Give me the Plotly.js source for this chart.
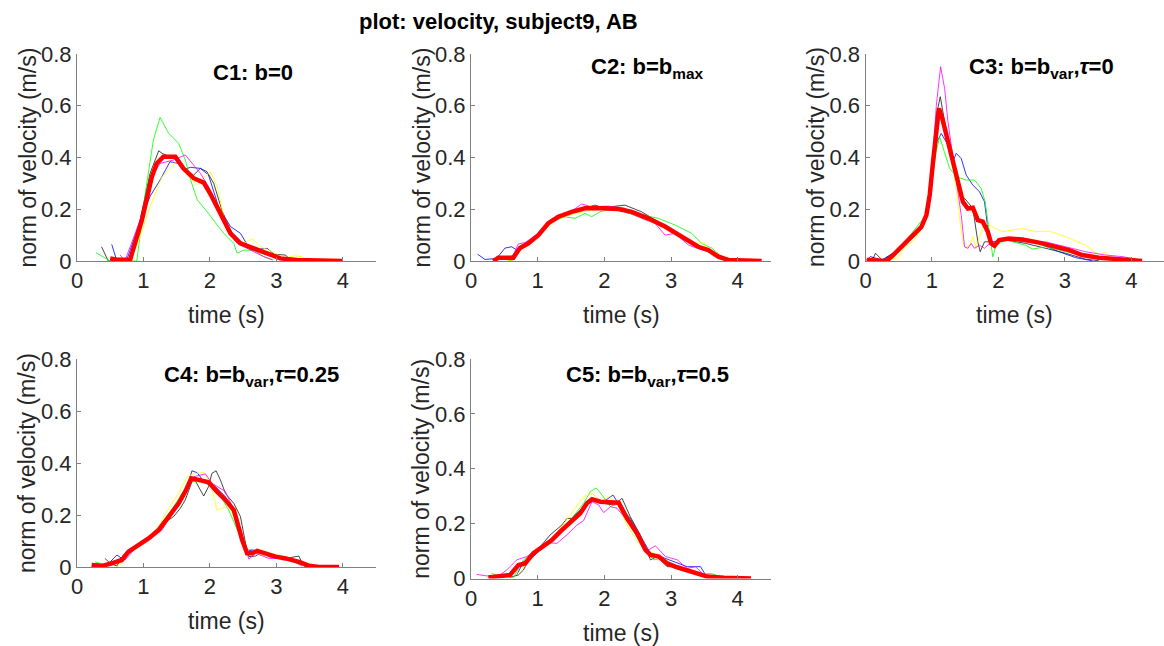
<!DOCTYPE html>
<html>
<head>
<meta charset="utf-8">
<script src="https://cdn.plot.ly/plotly-3.0.1.min.js"></script>
<style>html,body{margin:0;padding:0;background:#fff;}#chart{width:1164px;height:646px;}</style>
</head>
<body>
<div id="chart"></div>
<script>
// ---------- data (time in s, norm of velocity in m/s) ----------
const mainTitle = "plot: velocity, subject9, AB";
const panelTitles = ["C1: b=0", "C2: b=b<sub>max</sub>", "C3: b=b<sub>var</sub>,<i>τ</i>=0", "C4: b=b<sub>var</sub>,<i>τ</i>=0.25", "C5: b=b<sub>var</sub>,<i>τ</i>=0.5"];
const xTicks = [0, 1, 2, 3, 4];
const yTicks = [0, 0.2, 0.4, 0.6, 0.8];
const yTickText = ["0", "0.2", "0.4", "0.6", "0.8"];

// C1
const c1_k_t = [0.37,0.47,0.6,0.8,0.95,1.10,1.23,1.28,1.40,1.50,1.655,1.755,1.857,1.957,2.058,2.18,2.31,2.49,2.66,2.91,3.14,3.21];
const c1_k_v = [0.055,0,0,0.008,0.158,0.339,0.426,0.416,0.403,0.39,0.339,0.332,0.358,0.345,0.30,0.197,0.113,0.068,0.049,0.027,0.023,0.004];
const c1_b_t = [0.523,0.60,0.75,0.85,0.976,1.10,1.25,1.40,1.53,1.60,1.705,1.857,1.98,2.13,2.31,2.46,2.61,2.86,3.01,3.16];
const c1_b_v = [0.064,0,0.005,0.08,0.171,0.25,0.313,0.384,0.377,0.352,0.362,0.358,0.332,0.21,0.133,0.107,0.042,0.049,0.017,0.004];
const c1_g_t = [0.287,0.50,0.9,1.026,1.15,1.25,1.38,1.53,1.63,1.71,1.81,1.98,2.11,2.21,2.36,2.41,2.51,2.66,2.81,2.96];
const c1_g_v = [0.032,0,0,0.26,0.468,0.555,0.493,0.455,0.39,0.313,0.236,0.184,0.139,0.107,0.068,0.03,0.042,0.042,0.017,0.004];
const c1_y_t = [0.80,0.95,1.10,1.28,1.43,1.50,1.63,1.81,1.907,2.007,2.11,2.21,2.36,2.51,2.64,2.76,2.94,3.11,3.27,3.39,3.44];
const c1_y_v = [0,0.094,0.21,0.326,0.365,0.39,0.339,0.294,0.32,0.345,0.287,0.171,0.094,0.068,0.087,0.055,0.036,0.01,0.02,0.017,0];
const c1_m_t = [0.65,0.72,0.95,1.127,1.25,1.45,1.63,1.73,1.857,1.98,2.11,2.26,2.41,2.61,2.81,2.94];
const c1_m_v = [0.023,0,0.158,0.326,0.377,0.39,0.41,0.377,0.339,0.287,0.21,0.12,0.068,0.042,0.017,0.004];
const c1_r_t = [0.50,0.60,0.80,0.976,1.127,1.20,1.30,1.48,1.60,1.756,1.907,2.007,2.158,2.31,2.46,2.66,2.86,3.06,3.31,3.6,3.99];
const c1_r_v = [0.01,0.005,0.005,0.158,0.326,0.377,0.403,0.403,0.358,0.32,0.303,0.26,0.184,0.107,0.068,0.049,0.027,0.01,0.004,0.002,0];

// C2
const c2_k_t = [0.41,0.61,0.71,0.96,1.16,1.36,1.61,1.86,2.11,2.31,2.56,2.81,3.06,3.31,3.56,3.76,3.91];
const c2_k_v = [0.017,0,0.05,0.094,0.146,0.178,0.197,0.21,0.21,0.216,0.19,0.152,0.113,0.075,0.036,0.01,0];
const c2_b_t = [0.10,0.21,0.385,0.51,0.61,0.685,0.81,1.01,1.135,1.36,1.61,1.86,2.01,2.26,2.51,2.76,3.01,3.26,3.51,3.66,3.81];
const c2_b_v = [0.026,0.006,0.01,0.05,0.055,0.043,0.062,0.10,0.139,0.171,0.197,0.216,0.204,0.197,0.171,0.152,0.113,0.075,0.05,0.03,0.006];
const c2_g_t = [0.385,0.56,0.66,0.81,1.01,1.21,1.41,1.56,1.71,1.81,1.935,2.16,2.36,2.56,2.81,3.06,3.31,3.46,3.61,3.76,3.91];
const c2_g_v = [0.017,0.01,0.03,0.062,0.107,0.152,0.171,0.165,0.184,0.171,0.19,0.204,0.184,0.178,0.165,0.139,0.107,0.068,0.05,0.017,0.004];
const c2_y_t = [0.46,0.61,0.71,0.86,1.06,1.31,1.56,1.81,2.06,2.31,2.56,2.81,3.06,3.31,3.51,3.535,3.66,3.86];
const c2_y_v = [0.01,0.001,0.036,0.062,0.113,0.165,0.184,0.197,0.204,0.194,0.165,0.139,0.107,0.068,0.07,0.042,0.036,0.004];
const c2_m_t = [0.61,0.71,0.81,1.01,1.26,1.46,1.66,1.81,2.06,2.31,2.56,2.76,2.91,3.06,3.26,3.46,3.61,3.76,3.91];
const c2_m_v = [0.01,0.066,0.071,0.107,0.165,0.184,0.22,0.21,0.212,0.204,0.165,0.146,0.10,0.107,0.062,0.043,0.036,0.017,0.001];
const c2_r_t = [0.335,0.41,0.635,0.735,0.86,1.01,1.16,1.31,1.51,1.71,1.96,2.21,2.41,2.66,2.91,3.16,3.41,3.56,3.71,3.86,4.1,4.36];
const c2_r_v = [0,0.013,0.013,0.05,0.068,0.10,0.146,0.171,0.19,0.204,0.204,0.201,0.19,0.165,0.133,0.094,0.055,0.042,0.017,0.004,0.001,0];

// C3
const c3_k_t = [0.02,0.12,0.15,0.25,0.5,0.75,0.92,1.0,1.066,1.125,1.19,1.265,1.365,1.44,1.515,1.615,1.69,1.725,1.79,1.915,2.11,2.41,2.71,3.01,3.31,3.51];
const c3_k_v = [0.004,0.013,0.03,0.004,0.04,0.1,0.18,0.33,0.564,0.635,0.538,0.435,0.332,0.255,0.235,0.203,0.074,0.036,0.074,0.074,0.081,0.068,0.049,0.03,0.007,0.001];
const c3_b_t = [0.02,0.07,0.25,0.5,0.75,0.92,1.0,1.075,1.14,1.24,1.315,1.365,1.44,1.515,1.615,1.715,1.79,1.865,1.915,2.01,2.31,2.61,2.91,3.16,3.41];
const c3_b_v = [0.004,0.017,0.004,0.045,0.1,0.18,0.32,0.461,0.493,0.448,0.384,0.416,0.396,0.332,0.293,0.268,0.229,0.074,0.055,0.081,0.081,0.068,0.036,0.013,0.001];
const c3_g_t = [0.02,0.3,0.5,0.7,0.92,1.0,1.06,1.115,1.19,1.265,1.365,1.515,1.64,1.74,1.80,1.865,1.915,1.965,2.11,2.41,2.51,2.71,3.01,3.31,3.61];
const c3_g_v = [0.004,0.004,0.045,0.11,0.18,0.3,0.42,0.48,0.422,0.358,0.326,0.313,0.313,0.28,0.229,0.113,0.016,0.061,0.081,0.061,0.046,0.055,0.036,0.023,0.007];
const c3_y_t = [0.35,0.49,0.54,0.617,0.716,0.816,0.916,0.99,1.066,1.115,1.165,1.24,1.315,1.365,1.44,1.49,1.565,1.615,1.665,1.764,1.815,2.06,2.36,2.56,2.76,3.01,3.31,3.51,3.61,3.66];
const c3_y_v = [0.01,0.008,0.036,0.061,0.074,0.113,0.177,0.306,0.5,0.59,0.538,0.435,0.358,0.28,0.113,0.049,0.061,0.094,0.049,0.132,0.145,0.113,0.126,0.113,0.116,0.094,0.061,0.023,0.036,0.008];
const c3_m_t = [0.3,0.5,0.75,0.92,1.0,1.066,1.13,1.19,1.24,1.315,1.39,1.44,1.49,1.54,1.59,1.64,1.715,1.79,1.89,2.11,2.41,2.71,3.01,3.31,3.61,3.86,4.06];
const c3_m_v = [0.004,0.045,0.1,0.18,0.36,0.603,0.751,0.667,0.538,0.41,0.28,0.177,0.055,0.049,0.068,0.049,0.061,0.049,0.074,0.081,0.074,0.074,0.055,0.036,0.023,0.017,0.008];
const c3_r_t = [0.018,0.317,0.417,0.567,0.716,0.84,0.916,0.966,1.016,1.066,1.105,1.155,1.225,1.315,1.39,1.465,1.54,1.615,1.69,1.764,1.84,1.89,1.94,2.01,2.16,2.36,2.61,2.86,3.06,3.26,3.51,3.81,4.16];
const c3_r_v = [0.004,0,0.023,0.061,0.10,0.132,0.177,0.255,0.384,0.525,0.59,0.551,0.474,0.384,0.306,0.229,0.203,0.206,0.158,0.152,0.113,0.068,0.059,0.081,0.087,0.083,0.071,0.055,0.042,0.023,0.013,0.007,0];

// C4
const c4_k_t = [0.42,0.5,0.6,0.7,0.775,1.077,1.379,1.455,1.555,1.63,1.73,1.78,1.857,1.907,1.98,2.03,2.093,2.158,2.234,2.36,2.46,2.536,2.586,2.687,2.787,2.888,3.14,3.34,3.39,3.44];
const c4_k_v = [0.033,0.014,0.004,0.046,0.065,0.11,0.181,0.194,0.226,0.258,0.328,0.332,0.296,0.273,0.309,0.36,0.37,0.335,0.283,0.245,0.194,0.091,0.04,0.042,0.059,0.04,0.033,0.042,0.014,0];
const c4_b_t = [0.247,0.42,0.5,0.6,0.675,0.775,1.077,1.278,1.48,1.63,1.73,1.806,1.932,2.083,2.234,2.36,2.46,2.536,2.637,2.762,2.888,3.14,3.34,3.44];
const c4_b_v = [0.014,0.008,0.02,0.046,0.033,0.065,0.11,0.149,0.226,0.283,0.37,0.363,0.322,0.309,0.27,0.206,0.117,0.059,0.065,0.059,0.04,0.033,0.02,0];
const c4_g_t = [0.272,0.42,0.624,0.775,1.077,1.379,1.58,1.706,1.832,2.008,2.134,2.284,2.435,2.536,2.637,2.787,2.99,3.24,3.39,3.44];
const c4_g_v = [0.02,0.008,0.02,0.059,0.11,0.2,0.283,0.328,0.328,0.322,0.283,0.219,0.13,0.065,0.068,0.053,0.04,0.03,0.008,0];
const c4_y_t = [0.6,0.675,0.775,1.077,1.228,1.379,1.53,1.656,1.78,1.907,2.008,2.108,2.184,2.284,2.385,2.486,2.586,2.84,3.04,3.24,3.34];
const c4_y_v = [0,0.014,0.059,0.11,0.155,0.226,0.283,0.347,0.36,0.363,0.322,0.219,0.226,0.232,0.181,0.104,0.059,0.042,0.046,0.027,0.008];
const c4_m_t = [0.725,0.876,1.077,1.278,1.48,1.63,1.756,1.932,2.033,2.234,2.385,2.51,2.586,2.687,2.888,3.14,3.29,3.39];
const c4_m_v = [0.027,0.072,0.106,0.142,0.226,0.296,0.347,0.358,0.322,0.29,0.206,0.097,0.03,0.053,0.033,0.033,0.017,0.003];
const c4_r_t = [0.22,0.373,0.523,0.675,0.775,0.926,1.077,1.228,1.379,1.53,1.63,1.72,1.832,1.98,2.108,2.234,2.36,2.486,2.56,2.637,2.712,2.84,2.99,3.14,3.34,3.49,3.64,3.945];
const c4_r_v = [0.008,0.004,0.014,0.027,0.059,0.085,0.11,0.142,0.194,0.245,0.29,0.341,0.335,0.326,0.29,0.258,0.219,0.104,0.053,0.053,0.062,0.05,0.04,0.033,0.02,0.005,0,0];

// C5
const c5_k_t = [0.586,0.712,0.787,0.837,0.988,1.188,1.363,1.439,1.589,1.739,1.84,1.99,2.14,2.266,2.39,2.54,2.692,2.792,2.942,3.093,3.293,3.494];
const c5_k_v = [0.004,0.013,0.031,0.055,0.101,0.159,0.195,0.219,0.219,0.276,0.289,0.274,0.268,0.292,0.225,0.158,0.068,0.08,0.043,0.043,0.025,0.007];
const c5_b_t = [0.687,0.787,0.937,1.188,1.439,1.689,1.84,1.99,2.13,2.24,2.39,2.54,2.692,2.842,3.043,3.243,3.443,3.519,3.644];
const c5_b_v = [0.013,0.061,0.08,0.14,0.201,0.262,0.286,0.28,0.304,0.262,0.219,0.158,0.092,0.08,0.061,0.043,0.043,0.013,0.004];
const c5_g_t = [0.31,0.436,0.637,0.787,0.988,1.238,1.489,1.689,1.79,1.88,1.965,2.09,2.24,2.39,2.54,2.667,2.742,2.892,3.043,3.243,3.443,3.594,3.745];
const c5_g_v = [0.019,0.007,0.004,0.068,0.104,0.146,0.213,0.274,0.317,0.33,0.304,0.262,0.274,0.213,0.152,0.086,0.068,0.074,0.049,0.031,0.013,0.019,0.007];
const c5_y_t = [0.687,0.988,1.288,1.539,1.689,1.815,1.965,2.065,2.19,2.34,2.516,2.642,2.842,3.043,3.293,3.494];
const c5_y_v = [0.013,0.098,0.165,0.25,0.298,0.31,0.28,0.301,0.274,0.195,0.128,0.104,0.08,0.049,0.031,0.013];
const c5_m_t = [0.085,0.236,0.386,0.536,0.687,0.837,0.988,1.138,1.288,1.439,1.589,1.689,1.815,1.915,1.99,2.09,2.19,2.34,2.49,2.617,2.767,2.917,3.093,3.243,3.368,3.494,3.644];
const c5_m_v = [0.015,0.009,0.004,0.031,0.068,0.08,0.104,0.131,0.128,0.159,0.195,0.211,0.28,0.268,0.24,0.262,0.256,0.213,0.152,0.098,0.119,0.08,0.068,0.037,0.043,0.013,0.004];
const c5_r_t = [0.26,0.386,0.586,0.712,0.812,0.937,1.063,1.213,1.338,1.489,1.639,1.739,1.815,1.94,2.09,2.215,2.34,2.49,2.617,2.692,2.817,2.942,3.093,3.243,3.393,3.544,3.795,4.2];
const c5_r_v = [0.004,0.009,0.013,0.049,0.055,0.092,0.116,0.14,0.171,0.207,0.238,0.274,0.289,0.28,0.276,0.276,0.219,0.165,0.104,0.086,0.08,0.055,0.041,0.031,0.019,0.007,0.003,0];

// ---------- build ----------
const W = 1164, H = 646;
const seriesColors = {k: "#1a1a1a", b: "#0000ff", g: "#00ff00", y: "#ffff00", m: "#ff00ff"};
const panels = [
  {k:[c1_k_t,c1_k_v], b:[c1_b_t,c1_b_v], g:[c1_g_t,c1_g_v], y:[c1_y_t,c1_y_v], m:[c1_m_t,c1_m_v], r:[c1_r_t,c1_r_v]},
  {k:[c2_k_t,c2_k_v], b:[c2_b_t,c2_b_v], g:[c2_g_t,c2_g_v], y:[c2_y_t,c2_y_v], m:[c2_m_t,c2_m_v], r:[c2_r_t,c2_r_v]},
  {k:[c3_k_t,c3_k_v], b:[c3_b_t,c3_b_v], g:[c3_g_t,c3_g_v], y:[c3_y_t,c3_y_v], m:[c3_m_t,c3_m_v], r:[c3_r_t,c3_r_v]},
  {k:[c4_k_t,c4_k_v], b:[c4_b_t,c4_b_v], g:[c4_g_t,c4_g_v], y:[c4_y_t,c4_y_v], m:[c4_m_t,c4_m_v], r:[c4_r_t,c4_r_v]},
  {k:[c5_k_t,c5_k_v], b:[c5_b_t,c5_b_v], g:[c5_g_t,c5_g_v], y:[c5_y_t,c5_y_v], m:[c5_m_t,c5_m_v], r:[c5_r_t,c5_r_v]}
];
// pixel boxes [left, right, top, bottom] and x-range max
const boxes = [
  [77, 376, 54, 261, 4.5],
  [471, 771, 54, 261, 4.5],
  [865.5, 1164, 54, 261, 4.49],
  [77, 376, 359, 567, 4.5],
  [471, 771, 359, 578.5, 4.5]
];
// panel-title positions (px centre x, centre y)
const titlePos = [[253, 73], [647, 68], [1041, 68], [251, 376], [647, 376]];

const FONT = "Liberation Sans, Arial, Helvetica, sans-serif";
const traces = [];
const layout = {
  width: W, height: H,
  margin: {l: 0, r: 0, t: 0, b: 0},
  paper_bgcolor: "#ffffff", plot_bgcolor: "#ffffff",
  showlegend: false,
  font: {family: FONT, color: "#262626"},
  annotations: []
};

panels.forEach((p, i) => {
  const n = i + 1;
  const xa = "x" + (n === 1 ? "" : n), ya = "y" + (n === 1 ? "" : n);
  ["k", "b", "g", "y", "m"].forEach(s => {
    traces.push({x: p[s][0], y: p[s][1], xaxis: xa, yaxis: ya, type: "scatter", mode: "lines",
      line: {color: seriesColors[s], width: 1}, opacity: 0.8, hoverinfo: "skip"});
  });
  traces.push({x: p.r[0], y: p.r[1], xaxis: xa, yaxis: ya, type: "scatter", mode: "lines",
    line: {color: "#ff0000", width: 4.5}, hoverinfo: "skip"});

  const [L, R, T, B, xmax] = boxes[i];
  const axCommon = {showgrid: false, zeroline: false, showline: true, linecolor: "#808080", linewidth: 1,
    ticks: "inside", ticklen: 4, tickcolor: "#808080", tickwidth: 1,
    tickfont: {family: FONT, size: 22, color: "#262626"}, fixedrange: true};
  layout["xaxis" + (n === 1 ? "" : n)] = Object.assign({}, axCommon, {
    domain: [L / W, R / W], range: [0, xmax], tickvals: xTicks, ticktext: xTicks.map(String),
    anchor: ya, mirror: false});
  layout["yaxis" + (n === 1 ? "" : n)] = Object.assign({}, axCommon, {
    domain: [1 - B / H, 1 - T / H], range: [0, 0.8], tickvals: yTicks, ticktext: yTickText,
    anchor: xa, ticklabelstandoff: 0});
  // axis titles as annotations
  layout.annotations.push({xref: "paper", yref: "paper", x: (L + R) / 2 / W, y: 1 - (B + 54) / H,
    text: "time (s)", showarrow: false, font: {family: FONT, size: 23, color: "#262626"},
    xanchor: "center", yanchor: "middle"});
  layout.annotations.push({xref: "paper", yref: "paper", x: (L - 50) / W, y: 1 - (T + B) / 2 / H,
    text: "norm of velocity (m/s)", textangle: -90, showarrow: false,
    font: {family: FONT, size: 23, color: "#262626"}, xanchor: "center", yanchor: "middle"});
  layout.annotations.push({xref: "paper", yref: "paper", x: titlePos[i][0] / W, y: 1 - titlePos[i][1] / H,
    text: "<b>" + panelTitles[i] + "</b>", showarrow: false,
    font: {family: FONT, size: 22, color: "#000000"}, xanchor: "center", yanchor: "middle"});
});
layout.annotations.push({xref: "paper", yref: "paper", x: 498 / W, y: 1 - 22 / H,
  text: "<b>" + mainTitle + "</b>", showarrow: false,
  font: {family: FONT, size: 22, color: "#000000"}, xanchor: "center", yanchor: "middle"});

Plotly.newPlot("chart", traces, layout, {staticPlot: true, displayModeBar: false});
</script>
</body>
</html>
